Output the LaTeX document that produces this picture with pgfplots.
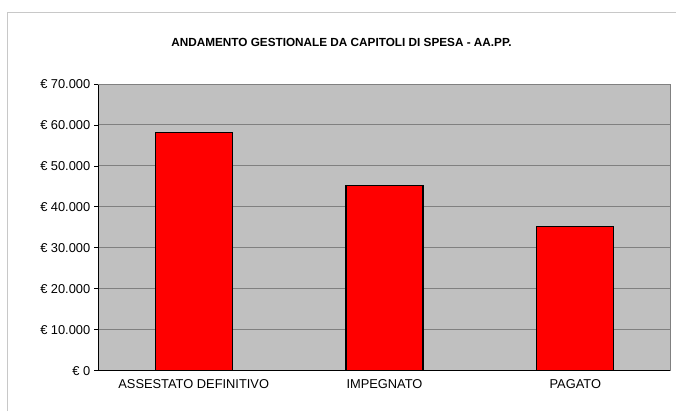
\documentclass[border=0pt]{standalone}
\usepackage{pgfplots}
\pgfplotsset{compat=1.18}
\usepackage{fontspec}
\setmainfont{Liberation Sans}
\definecolor{bgGray}{RGB}{192,192,192}
\definecolor{gridGray}{RGB}{128,128,128}
\definecolor{frameGray}{RGB}{200,200,200}
\definecolor{barRed}{RGB}{255,0,0}
\begin{document}
\begin{tikzpicture}[x=1bp,y=1bp]
\path[use as bounding box] (0,0) rectangle (676,411);
\draw[frameGray, line width=1.2bp] (7.5,0) -- (7.5,398.5) -- (676,398.5);
\node[font=\bfseries\fontsize{11.8}{13}\selectfont] at (341.5,369) {ANDAMENTO GESTIONALE DA CAPITOLI DI SPESA - AA.PP.};
\begin{axis}[
  at={(98.3bp,40.3bp)}, anchor=south west,
  width=572.4bp, height=286.7bp, scale only axis,
  xmin=-0.5, xmax=2.5, ymin=0, ymax=70000,
  axis background/.style={fill=bgGray},
  axis x line*=bottom, axis y line*=left,
  axis line style={black, line width=1bp},
  ybar, bar width=77bp,
  xtick={0,1,2},
  xticklabels={ASSESTATO DEFINITIVO, IMPEGNATO, PAGATO},
  major x tick style={draw=none},
  extra x ticks={0.5,1.5},
  extra x tick labels={},
  extra x tick style={major tick length=4bp, tick style={black, line width=0.8bp}, grid=none},
  ytick={0,10000,20000,30000,40000,50000,60000,70000},
  tick align=outside,
  major tick length=4bp,
  y tick style={black, line width=0.8bp},
  ymajorgrids,
  grid style={gridGray, line width=1bp},
  /pgf/number format/assume math mode=true,
  /pgf/number format/.cd, fixed, precision=0, 1000 sep={.},
  /pgfplots/.cd,
  yticklabel={€ \pgfmathprintnumber{\tick}},
  scaled y ticks=false,
  tick label style={font=\fontsize{12.9}{14}\selectfont},
  yticklabel style={xshift=-0.5bp},
  xticklabel style={yshift=-1bp},
  clip=false,
]
\addplot[fill=barRed, draw=black, line width=1.2bp] coordinates {(0,58100) (1,45200) (2,35300)};
\draw[gridGray, line width=1bp] (rel axis cs:0,1) -- (rel axis cs:1,1) -- (rel axis cs:1,0);
\end{axis}
\end{tikzpicture}
\end{document}
